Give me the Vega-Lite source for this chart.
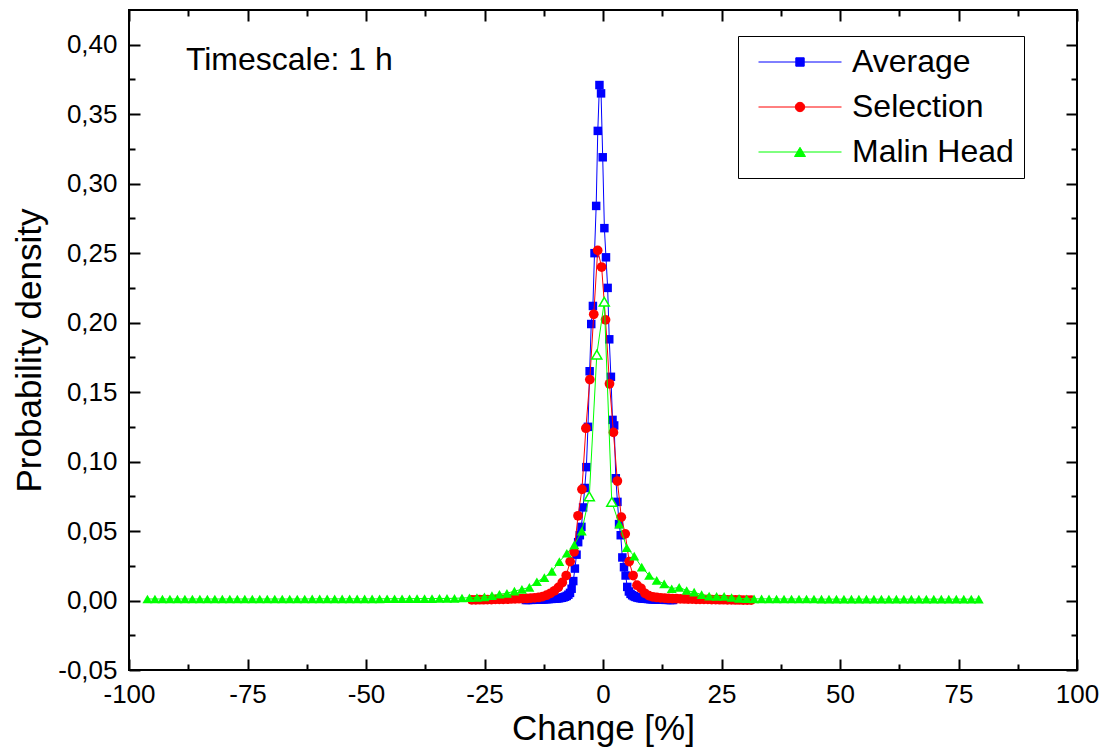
{
  "$schema": "https://vega.github.io/schema/vega-lite/v6.json",
  "width": 948,
  "height": 660,
  "autosize": {"type": "none"},
  "padding": {"left": 129, "top": 10, "right": 24, "bottom": 82},
  "background": "white",
  "config": {
    "view": {"stroke": "black", "strokeWidth": 2},
    "font": "Liberation Sans",
    "axis": {"labelFont": "Liberation Sans", "titleFont": "Liberation Sans", "labelColor": "black", "titleColor": "black", "tickColor": "black", "domain": false, "grid": false, "titleFontWeight": "normal", "tickWidth": 2, "labelFlush": false}
  },
  "data": {"values": [
    {"s":"Average","x":-16.28,"y":0.0004},{"s":"Average","x":-15.93,"y":0.0004},{"s":"Average","x":-15.59,"y":0.0005},{"s":"Average","x":-15.24,"y":0.0005},{"s":"Average","x":-14.9,"y":0.0005},{"s":"Average","x":-14.55,"y":0.0006},{"s":"Average","x":-14.21,"y":0.0006},{"s":"Average","x":-13.86,"y":0.0007},{"s":"Average","x":-13.52,"y":0.0007},{"s":"Average","x":-13.17,"y":0.0008},{"s":"Average","x":-12.83,"y":0.0008},{"s":"Average","x":-12.48,"y":0.0009},{"s":"Average","x":-12.14,"y":0.001},{"s":"Average","x":-11.79,"y":0.001},{"s":"Average","x":-11.45,"y":0.0011},{"s":"Average","x":-11.1,"y":0.0012},{"s":"Average","x":-10.76,"y":0.0012},{"s":"Average","x":-10.41,"y":0.0013},{"s":"Average","x":-10.07,"y":0.0014},{"s":"Average","x":-9.72,"y":0.0015},{"s":"Average","x":-9.38,"y":0.0016},{"s":"Average","x":-9.03,"y":0.0018},{"s":"Average","x":-8.69,"y":0.002},{"s":"Average","x":-8.34,"y":0.0023},{"s":"Average","x":-8.0,"y":0.0027},{"s":"Average","x":-7.65,"y":0.0033},{"s":"Average","x":-7.31,"y":0.0042},{"s":"Average","x":-6.96,"y":0.0055},{"s":"Average","x":-6.62,"y":0.0085},{"s":"Average","x":-6.27,"y":0.014},{"s":"Average","x":-5.93,"y":0.023},{"s":"Average","x":-5.58,"y":0.033},{"s":"Average","x":-5.24,"y":0.042},{"s":"Average","x":-4.89,"y":0.047},{"s":"Average","x":-4.55,"y":0.053},{"s":"Average","x":-4.2,"y":0.067},{"s":"Average","x":-3.86,"y":0.081},{"s":"Average","x":-3.51,"y":0.096},{"s":"Average","x":-3.17,"y":0.125},{"s":"Average","x":-2.82,"y":0.165},{"s":"Average","x":-2.48,"y":0.199},{"s":"Average","x":-2.13,"y":0.212},{"s":"Average","x":-1.79,"y":0.25},{"s":"Average","x":-1.44,"y":0.284},{"s":"Average","x":-1.1,"y":0.338},{"s":"Average","x":-0.75,"y":0.371},{"s":"Average","x":-0.41,"y":0.365},{"s":"Average","x":-0.06,"y":0.319},{"s":"Average","x":0.29,"y":0.268},{"s":"Average","x":0.63,"y":0.247},{"s":"Average","x":0.98,"y":0.225},{"s":"Average","x":1.32,"y":0.188},{"s":"Average","x":1.67,"y":0.161},{"s":"Average","x":2.01,"y":0.13},{"s":"Average","x":2.36,"y":0.126},{"s":"Average","x":2.7,"y":0.088},{"s":"Average","x":3.05,"y":0.071},{"s":"Average","x":3.39,"y":0.055},{"s":"Average","x":3.74,"y":0.047},{"s":"Average","x":4.08,"y":0.031},{"s":"Average","x":4.43,"y":0.024},{"s":"Average","x":4.77,"y":0.018},{"s":"Average","x":5.12,"y":0.0098},{"s":"Average","x":5.46,"y":0.0065},{"s":"Average","x":5.81,"y":0.0048},{"s":"Average","x":6.15,"y":0.0038},{"s":"Average","x":6.5,"y":0.0031},{"s":"Average","x":6.84,"y":0.0026},{"s":"Average","x":7.19,"y":0.0022},{"s":"Average","x":7.53,"y":0.0019},{"s":"Average","x":7.88,"y":0.0017},{"s":"Average","x":8.22,"y":0.0015},{"s":"Average","x":8.57,"y":0.0014},{"s":"Average","x":8.91,"y":0.0013},{"s":"Average","x":9.26,"y":0.0012},{"s":"Average","x":9.6,"y":0.0011},{"s":"Average","x":9.95,"y":0.001},{"s":"Average","x":10.29,"y":0.0009},{"s":"Average","x":10.64,"y":0.0009},{"s":"Average","x":10.98,"y":0.0008},{"s":"Average","x":11.33,"y":0.0008},{"s":"Average","x":11.67,"y":0.0007},{"s":"Average","x":12.02,"y":0.0007},{"s":"Average","x":12.36,"y":0.0006},{"s":"Average","x":12.71,"y":0.0006},{"s":"Average","x":13.05,"y":0.0005},{"s":"Average","x":13.4,"y":0.0005},{"s":"Average","x":13.74,"y":0.0005},{"s":"Average","x":14.09,"y":0.0004},{"s":"Average","x":14.43,"y":0.0004},{"s":"Average","x":14.78,"y":0.0004},
    {"s":"Selection","x":-27.68,"y":0.0005},{"s":"Selection","x":-26.85,"y":0.0005},{"s":"Selection","x":-26.02,"y":0.0006},{"s":"Selection","x":-25.19,"y":0.0006},{"s":"Selection","x":-24.36,"y":0.0007},{"s":"Selection","x":-23.53,"y":0.0007},{"s":"Selection","x":-22.7,"y":0.0008},{"s":"Selection","x":-21.87,"y":0.0008},{"s":"Selection","x":-21.04,"y":0.0009},{"s":"Selection","x":-20.21,"y":0.001},{"s":"Selection","x":-19.38,"y":0.0011},{"s":"Selection","x":-18.55,"y":0.0012},{"s":"Selection","x":-17.72,"y":0.0013},{"s":"Selection","x":-16.89,"y":0.0014},{"s":"Selection","x":-16.06,"y":0.0015},{"s":"Selection","x":-15.23,"y":0.0017},{"s":"Selection","x":-14.4,"y":0.0019},{"s":"Selection","x":-13.57,"y":0.0022},{"s":"Selection","x":-12.74,"y":0.0028},{"s":"Selection","x":-11.91,"y":0.0038},{"s":"Selection","x":-11.08,"y":0.0052},{"s":"Selection","x":-10.25,"y":0.007},{"s":"Selection","x":-9.42,"y":0.0095},{"s":"Selection","x":-8.59,"y":0.013},{"s":"Selection","x":-7.76,"y":0.018},{"s":"Selection","x":-6.93,"y":0.028},{"s":"Selection","x":-6.1,"y":0.035},{"s":"Selection","x":-5.27,"y":0.061},{"s":"Selection","x":-4.44,"y":0.08},{"s":"Selection","x":-3.61,"y":0.124},{"s":"Selection","x":-2.78,"y":0.159},{"s":"Selection","x":-1.95,"y":0.206},{"s":"Selection","x":-1.12,"y":0.252},{"s":"Selection","x":-0.29,"y":0.24},{"s":"Selection","x":0.54,"y":0.202},{"s":"Selection","x":1.37,"y":0.156},{"s":"Selection","x":2.2,"y":0.121},{"s":"Selection","x":3.03,"y":0.086},{"s":"Selection","x":3.86,"y":0.06},{"s":"Selection","x":4.69,"y":0.048},{"s":"Selection","x":5.52,"y":0.028},{"s":"Selection","x":6.35,"y":0.018},{"s":"Selection","x":7.18,"y":0.011},{"s":"Selection","x":8.01,"y":0.0088},{"s":"Selection","x":8.84,"y":0.0052},{"s":"Selection","x":9.67,"y":0.0035},{"s":"Selection","x":10.5,"y":0.0027},{"s":"Selection","x":11.33,"y":0.0022},{"s":"Selection","x":12.16,"y":0.0019},{"s":"Selection","x":12.99,"y":0.0017},{"s":"Selection","x":13.82,"y":0.0015},{"s":"Selection","x":14.65,"y":0.0014},{"s":"Selection","x":15.48,"y":0.0013},{"s":"Selection","x":16.31,"y":0.0012},{"s":"Selection","x":17.14,"y":0.0011},{"s":"Selection","x":17.97,"y":0.001},{"s":"Selection","x":18.8,"y":0.001},{"s":"Selection","x":19.63,"y":0.0009},{"s":"Selection","x":20.46,"y":0.0009},{"s":"Selection","x":21.29,"y":0.0008},{"s":"Selection","x":22.12,"y":0.0008},{"s":"Selection","x":22.95,"y":0.0007},{"s":"Selection","x":23.78,"y":0.0007},{"s":"Selection","x":24.61,"y":0.0006},{"s":"Selection","x":25.44,"y":0.0006},{"s":"Selection","x":26.27,"y":0.0005},{"s":"Selection","x":27.1,"y":0.0005},{"s":"Selection","x":27.93,"y":0.0004},{"s":"Selection","x":28.76,"y":0.0004},{"s":"Selection","x":29.59,"y":0.0003},{"s":"Selection","x":30.42,"y":0.0003},{"s":"Selection","x":31.25,"y":0.0003},
    {"s":"Malin Head","x":-96.11,"y":0.0011},{"s":"Malin Head","x":-94.53,"y":0.0011},{"s":"Malin Head","x":-92.95,"y":0.0011},{"s":"Malin Head","x":-91.37,"y":0.0011},{"s":"Malin Head","x":-89.79,"y":0.0011},{"s":"Malin Head","x":-88.21,"y":0.0011},{"s":"Malin Head","x":-86.63,"y":0.0011},{"s":"Malin Head","x":-85.05,"y":0.0011},{"s":"Malin Head","x":-83.47,"y":0.0011},{"s":"Malin Head","x":-81.89,"y":0.0011},{"s":"Malin Head","x":-80.31,"y":0.0011},{"s":"Malin Head","x":-78.73,"y":0.0011},{"s":"Malin Head","x":-77.15,"y":0.0011},{"s":"Malin Head","x":-75.57,"y":0.0011},{"s":"Malin Head","x":-73.99,"y":0.0011},{"s":"Malin Head","x":-72.41,"y":0.0011},{"s":"Malin Head","x":-70.83,"y":0.0011},{"s":"Malin Head","x":-69.25,"y":0.0011},{"s":"Malin Head","x":-67.67,"y":0.0011},{"s":"Malin Head","x":-66.09,"y":0.0011},{"s":"Malin Head","x":-64.51,"y":0.0011},{"s":"Malin Head","x":-62.93,"y":0.0011},{"s":"Malin Head","x":-61.35,"y":0.0012},{"s":"Malin Head","x":-59.77,"y":0.0012},{"s":"Malin Head","x":-58.19,"y":0.0012},{"s":"Malin Head","x":-56.61,"y":0.0012},{"s":"Malin Head","x":-55.03,"y":0.0012},{"s":"Malin Head","x":-53.45,"y":0.0012},{"s":"Malin Head","x":-51.87,"y":0.0012},{"s":"Malin Head","x":-50.29,"y":0.0012},{"s":"Malin Head","x":-48.71,"y":0.0012},{"s":"Malin Head","x":-47.13,"y":0.0012},{"s":"Malin Head","x":-45.55,"y":0.0013},{"s":"Malin Head","x":-43.97,"y":0.0013},{"s":"Malin Head","x":-42.39,"y":0.0013},{"s":"Malin Head","x":-40.81,"y":0.0013},{"s":"Malin Head","x":-39.23,"y":0.0014},{"s":"Malin Head","x":-37.65,"y":0.0014},{"s":"Malin Head","x":-36.07,"y":0.0014},{"s":"Malin Head","x":-34.49,"y":0.0015},{"s":"Malin Head","x":-32.91,"y":0.0015},{"s":"Malin Head","x":-31.33,"y":0.0016},{"s":"Malin Head","x":-29.75,"y":0.0018},{"s":"Malin Head","x":-28.17,"y":0.002},{"s":"Malin Head","x":-26.59,"y":0.0022},{"s":"Malin Head","x":-25.01,"y":0.0026},{"s":"Malin Head","x":-23.43,"y":0.0035},{"s":"Malin Head","x":-21.85,"y":0.0045},{"s":"Malin Head","x":-20.27,"y":0.0052},{"s":"Malin Head","x":-18.69,"y":0.0068},{"s":"Malin Head","x":-17.11,"y":0.008},{"s":"Malin Head","x":-15.53,"y":0.0095},{"s":"Malin Head","x":-13.95,"y":0.0135},{"s":"Malin Head","x":-12.37,"y":0.0165},{"s":"Malin Head","x":-10.79,"y":0.021},{"s":"Malin Head","x":-9.21,"y":0.028},{"s":"Malin Head","x":-7.63,"y":0.034},{"s":"Malin Head","x":-6.05,"y":0.04},{"s":"Malin Head","x":-4.47,"y":0.05},{"s":"Malin Head","x":-2.89,"y":0.075},{"s":"Malin Head","x":-1.31,"y":0.177},{"s":"Malin Head","x":0.27,"y":0.215},{"s":"Malin Head","x":1.85,"y":0.071},{"s":"Malin Head","x":3.43,"y":0.055},{"s":"Malin Head","x":5.01,"y":0.038},{"s":"Malin Head","x":6.59,"y":0.032},{"s":"Malin Head","x":8.17,"y":0.024},{"s":"Malin Head","x":9.75,"y":0.018},{"s":"Malin Head","x":11.33,"y":0.0145},{"s":"Malin Head","x":12.91,"y":0.012},{"s":"Malin Head","x":14.49,"y":0.0085},{"s":"Malin Head","x":16.07,"y":0.0095},{"s":"Malin Head","x":17.65,"y":0.0072},{"s":"Malin Head","x":19.23,"y":0.006},{"s":"Malin Head","x":20.81,"y":0.0042},{"s":"Malin Head","x":22.39,"y":0.0032},{"s":"Malin Head","x":23.97,"y":0.003},{"s":"Malin Head","x":25.55,"y":0.003},{"s":"Malin Head","x":27.13,"y":0.0022},{"s":"Malin Head","x":28.71,"y":0.0015},{"s":"Malin Head","x":30.29,"y":0.0013},{"s":"Malin Head","x":31.87,"y":0.0012},{"s":"Malin Head","x":33.45,"y":0.0012},{"s":"Malin Head","x":35.03,"y":0.0012},{"s":"Malin Head","x":36.61,"y":0.0011},{"s":"Malin Head","x":38.19,"y":0.0011},{"s":"Malin Head","x":39.77,"y":0.0011},{"s":"Malin Head","x":41.35,"y":0.0011},{"s":"Malin Head","x":42.93,"y":0.0011},{"s":"Malin Head","x":44.51,"y":0.0011},{"s":"Malin Head","x":46.09,"y":0.001},{"s":"Malin Head","x":47.67,"y":0.001},{"s":"Malin Head","x":49.25,"y":0.001},{"s":"Malin Head","x":50.83,"y":0.001},{"s":"Malin Head","x":52.41,"y":0.001},{"s":"Malin Head","x":53.99,"y":0.001},{"s":"Malin Head","x":55.57,"y":0.001},{"s":"Malin Head","x":57.15,"y":0.001},{"s":"Malin Head","x":58.73,"y":0.001},{"s":"Malin Head","x":60.31,"y":0.001},{"s":"Malin Head","x":61.89,"y":0.001},{"s":"Malin Head","x":63.47,"y":0.001},{"s":"Malin Head","x":65.05,"y":0.001},{"s":"Malin Head","x":66.63,"y":0.001},{"s":"Malin Head","x":68.21,"y":0.001},{"s":"Malin Head","x":69.79,"y":0.001},{"s":"Malin Head","x":71.37,"y":0.001},{"s":"Malin Head","x":72.95,"y":0.001},{"s":"Malin Head","x":74.53,"y":0.001},{"s":"Malin Head","x":76.11,"y":0.001},{"s":"Malin Head","x":77.69,"y":0.001},{"s":"Malin Head","x":79.27,"y":0.001}
  ]},
  "layer": [
    {
      "transform": [{"filter": "datum.s === 'Average'"}],
      "mark": {"type": "line", "strokeWidth": 1, "color": "#0000ff"},
      "encoding": {
        "x": {"field": "x", "type": "quantitative", "scale": {"domain": [-100, 100], "nice": false, "zero": false},
          "axis": {"orient": "bottom", "values": [-100, -75, -50, -25, 0, 25, 50, 75, 100], "tickSize": -11, "labelExpr": "'' + datum.value", "labelFontSize": 26, "labelPadding": 22, "title": "Change [%]", "titleFontSize": 35, "titlePadding": 4}},
        "y": {"field": "y", "type": "quantitative", "scale": {"domain": [-0.05, 0.425], "nice": false, "zero": false},
          "axis": {"orient": "left", "values": [-0.05, 0, 0.05, 0.1, 0.15, 0.2, 0.25, 0.3, 0.35, 0.4], "tickSize": -11, "labelExpr": "replace(replace(format(datum.value, '.2f'), '.', ','), '−', '-')", "labelFontSize": 26, "labelPadding": 23, "title": "Probability density", "titleFontSize": 35, "titlePadding": 10, "titleY": 340}},
        "color": {"field": "s", "type": "nominal",
          "scale": {"domain": ["Average", "Selection", "Malin Head"], "range": ["#0000ff", "#ff0000", "#00ff00"]},
          "legend": {"orient": "none", "legendX": 609, "legendY": 26, "title": null, "strokeColor": "black", "padding": 10, "labelFontSize": 32, "labelFont": "Liberation Sans", "labelColor": "black", "labelLimit": 400, "labelExpr": "datum.label + '\u00a0\u00a0'", "symbolSize": 400, "symbolStrokeWidth": 1, "symbolOffset": 36, "labelOffset": 36, "rowPadding": 13,
            "encode": {"symbols": {"update": {
              "shape": {"signal": "datum.value === 'Average' ? 'M-4.15,0H4.15M-0.42,-0.42H0.42V0.42H-0.42Z' : datum.value === 'Selection' ? 'M-4.15,0H4.15M-0.47,0A0.47,0.47,0,1,0,0.47,0A0.47,0.47,0,1,0,-0.47,0Z' : 'M-4.15,0H4.15M0,-0.47L0.55,0.45H-0.55Z'"},
              "fill": {"scale": "color", "field": "value"},
              "stroke": {"scale": "color", "field": "value"},
              "strokeWidth": {"value": 1}
            }}}}
        }
      }
    },
    {
      "transform": [{"filter": "datum.s === 'Average'"}],
      "mark": {"type": "point", "shape": "square", "filled": true, "size": 72, "color": "#0000ff", "opacity": 1},
      "encoding": {
        "x": {"field": "x", "type": "quantitative", "scale": {"domain": [-100, 100], "nice": false, "zero": false},
          "axis": {"orient": "bottom", "values": [-87.5, -62.5, -37.5, -12.5, 12.5, 37.5, 62.5, 87.5], "tickSize": -6, "labels": false, "title": null}},
        "y": {"field": "y", "type": "quantitative", "scale": {"domain": [-0.05, 0.425], "nice": false, "zero": false},
          "axis": {"orient": "left", "values": [-0.025, 0.025, 0.075, 0.125, 0.175, 0.225, 0.275, 0.325, 0.375], "tickSize": -6, "labels": false, "title": null}}
      }
    },
    {
      "transform": [{"filter": "datum.s === 'Selection'"}],
      "mark": {"type": "line", "strokeWidth": 1, "color": "#ff0000"},
      "encoding": {
        "x": {"field": "x", "type": "quantitative", "scale": {"domain": [-100, 100], "nice": false, "zero": false},
          "axis": {"orient": "top", "values": [-100, -75, -50, -25, 0, 25, 50, 75, 100], "tickSize": -11, "labels": false, "title": null}},
        "y": {"field": "y", "type": "quantitative", "scale": {"domain": [-0.05, 0.425], "nice": false, "zero": false},
          "axis": {"orient": "right", "values": [-0.05, 0, 0.05, 0.1, 0.15, 0.2, 0.25, 0.3, 0.35, 0.4], "tickSize": -11, "labels": false, "title": null}}
      }
    },
    {
      "transform": [{"filter": "datum.s === 'Selection'"}],
      "mark": {"type": "point", "shape": "circle", "filled": true, "size": 95, "color": "#ff0000", "opacity": 1},
      "encoding": {
        "x": {"field": "x", "type": "quantitative", "scale": {"domain": [-100, 100], "nice": false, "zero": false},
          "axis": {"orient": "top", "values": [-87.5, -62.5, -37.5, -12.5, 12.5, 37.5, 62.5, 87.5], "tickSize": -6, "labels": false, "title": null}},
        "y": {"field": "y", "type": "quantitative", "scale": {"domain": [-0.05, 0.425], "nice": false, "zero": false},
          "axis": {"orient": "right", "values": [-0.025, 0.025, 0.075, 0.125, 0.175, 0.225, 0.275, 0.325, 0.375], "tickSize": -6, "labels": false, "title": null}}
      }
    },
    {
      "transform": [{"filter": "datum.s === 'Malin Head'"}],
      "mark": {"type": "line", "strokeWidth": 1, "color": "#00ff00"},
      "encoding": {
        "x": {"field": "x", "type": "quantitative", "axis": null},
        "y": {"field": "y", "type": "quantitative", "axis": null}
      }
    },
    {
      "transform": [{"filter": "datum.s === 'Malin Head' && datum.y < 0.06"}],
      "mark": {"type": "point", "shape": "triangle-up", "filled": true, "size": 100, "color": "#00ff00", "opacity": 1},
      "encoding": {
        "x": {"field": "x", "type": "quantitative", "axis": null},
        "y": {"field": "y", "type": "quantitative", "axis": null}
      }
    },
    {
      "transform": [{"filter": "datum.s === 'Malin Head' && datum.y >= 0.06"}],
      "mark": {"type": "point", "shape": "triangle-up", "filled": false, "fill": "white", "fillOpacity": 1, "size": 100, "stroke": "#00ff00", "strokeWidth": 1.5, "opacity": 1},
      "encoding": {
        "x": {"field": "x", "type": "quantitative", "axis": null},
        "y": {"field": "y", "type": "quantitative", "axis": null}
      }
    },
    {
      "data": {"values": [{"label": "Timescale: 1 h"}]},
      "mark": {"type": "text", "align": "left", "baseline": "middle", "fontSize": 32, "font": "Liberation Sans", "color": "black"},
      "encoding": {
        "x": {"datum": -88, "type": "quantitative", "axis": null},
        "y": {"datum": 0.389, "type": "quantitative", "axis": null},
        "text": {"field": "label"}
      }
    }
  ],
  "resolve": {"axis": {"x": "independent", "y": "independent"}}
}
